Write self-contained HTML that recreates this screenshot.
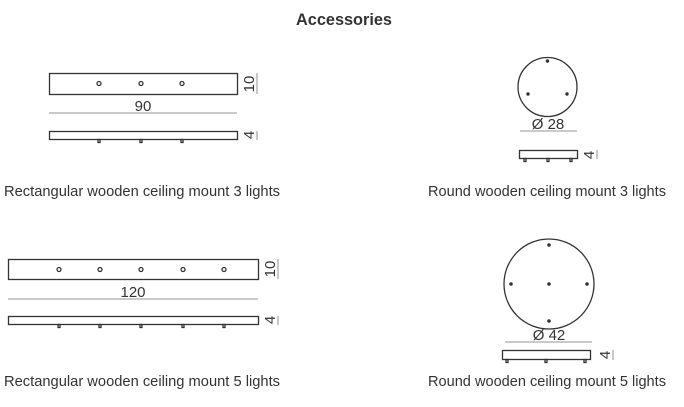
<!DOCTYPE html>
<html><head><meta charset="utf-8"><style>
html,body{margin:0;padding:0;background:#fff;}
svg{display:block;}
text{font-family:"Liberation Sans",sans-serif;fill:#333;}
</style></head><body>
<svg width="684" height="407" viewBox="0 0 684 407" xmlns="http://www.w3.org/2000/svg">
<text x="296" y="25" font-size="17" font-weight="bold" textLength="96" lengthAdjust="spacingAndGlyphs">Accessories</text>
<g stroke="#333" fill="none" stroke-width="1.3">
<rect x="49.5" y="73.5" width="188" height="21"/>
<circle cx="99" cy="83.5" r="2"/><circle cx="141" cy="83.5" r="2"/><circle cx="182" cy="83.5" r="2"/>
<line x1="49" y1="113" x2="237" y2="113" stroke="#aaa"/>
<line x1="257" y1="73" x2="257" y2="94" stroke="#aaa"/>
<rect x="49.5" y="131.5" width="188" height="8"/>
<rect x="98" y="139.5" width="2" height="3"/><rect x="140" y="139.5" width="2" height="3"/><rect x="181" y="139.5" width="2" height="3"/>
<line x1="257" y1="131" x2="257" y2="140" stroke="#aaa"/>
<rect x="8.5" y="259.5" width="250" height="20"/>
<circle cx="59" cy="269.5" r="2"/><circle cx="100" cy="269.5" r="2"/><circle cx="141" cy="269.5" r="2"/><circle cx="183" cy="269.5" r="2"/><circle cx="224" cy="269.5" r="2"/>
<line x1="8" y1="299" x2="258" y2="299" stroke="#aaa"/>
<line x1="278" y1="259" x2="278" y2="279" stroke="#aaa"/>
<rect x="8.5" y="316.5" width="250" height="8"/>
<rect x="58" y="324.5" width="2" height="3"/><rect x="99" y="324.5" width="2" height="3"/><rect x="140" y="324.5" width="2" height="3"/><rect x="182" y="324.5" width="2" height="3"/><rect x="223" y="324.5" width="2" height="3"/>
<line x1="278" y1="316" x2="278" y2="325" stroke="#aaa"/>
<circle cx="547.5" cy="87" r="29.5"/>
<line x1="520" y1="131" x2="577" y2="131" stroke="#aaa"/>
<rect x="519.5" y="150.5" width="58" height="8"/>
<rect x="524" y="158.5" width="2" height="3"/><rect x="547" y="158.5" width="2" height="3"/><rect x="570" y="158.5" width="2" height="3"/>
<line x1="597" y1="150" x2="597" y2="159" stroke="#aaa"/>
<circle cx="549" cy="284" r="45"/>
<line x1="505" y1="342" x2="592" y2="342" stroke="#aaa"/>
<rect x="502.5" y="350.5" width="88" height="9"/>
<rect x="506" y="359.5" width="2" height="3"/><rect x="545" y="359.5" width="2" height="3"/><rect x="584" y="359.5" width="2" height="3"/>
<line x1="613" y1="350" x2="613" y2="360" stroke="#aaa"/>
</g>
<g fill="#333">
<circle cx="547.5" cy="61" r="1.7"/><circle cx="528" cy="94" r="1.7"/><circle cx="567" cy="94" r="1.7"/>
<circle cx="549" cy="245" r="1.8"/><circle cx="511" cy="284" r="1.8"/><circle cx="549" cy="284" r="1.8"/><circle cx="587" cy="284" r="1.8"/><circle cx="549" cy="321" r="1.8"/>
</g>
<g font-size="15">
<text x="143" y="111" text-anchor="middle">90</text>
<text x="133" y="297" text-anchor="middle">120</text>
<text x="548" y="129" text-anchor="middle">Ø 28</text>
<text x="549" y="340" text-anchor="middle">Ø 42</text>
<text transform="translate(254,84) rotate(-90)" text-anchor="middle">10</text>
<text transform="translate(254,135) rotate(-90)" text-anchor="middle">4</text>
<text transform="translate(275,269) rotate(-90)" text-anchor="middle">10</text>
<text transform="translate(275,320) rotate(-90)" text-anchor="middle">4</text>
<text transform="translate(594,155) rotate(-90)" text-anchor="middle">4</text>
<text transform="translate(610,355) rotate(-90)" text-anchor="middle">4</text>
</g>
<g font-size="14.6">
<text x="4" y="196" textLength="276" lengthAdjust="spacingAndGlyphs">Rectangular wooden ceiling mount 3 lights</text>
<text x="428" y="196" textLength="238" lengthAdjust="spacingAndGlyphs">Round wooden ceiling mount 3 lights</text>
<text x="4" y="386" textLength="276" lengthAdjust="spacingAndGlyphs">Rectangular wooden ceiling mount 5 lights</text>
<text x="428" y="386" textLength="238" lengthAdjust="spacingAndGlyphs">Round wooden ceiling mount 5 lights</text>
</g>
</svg>
</body></html>
